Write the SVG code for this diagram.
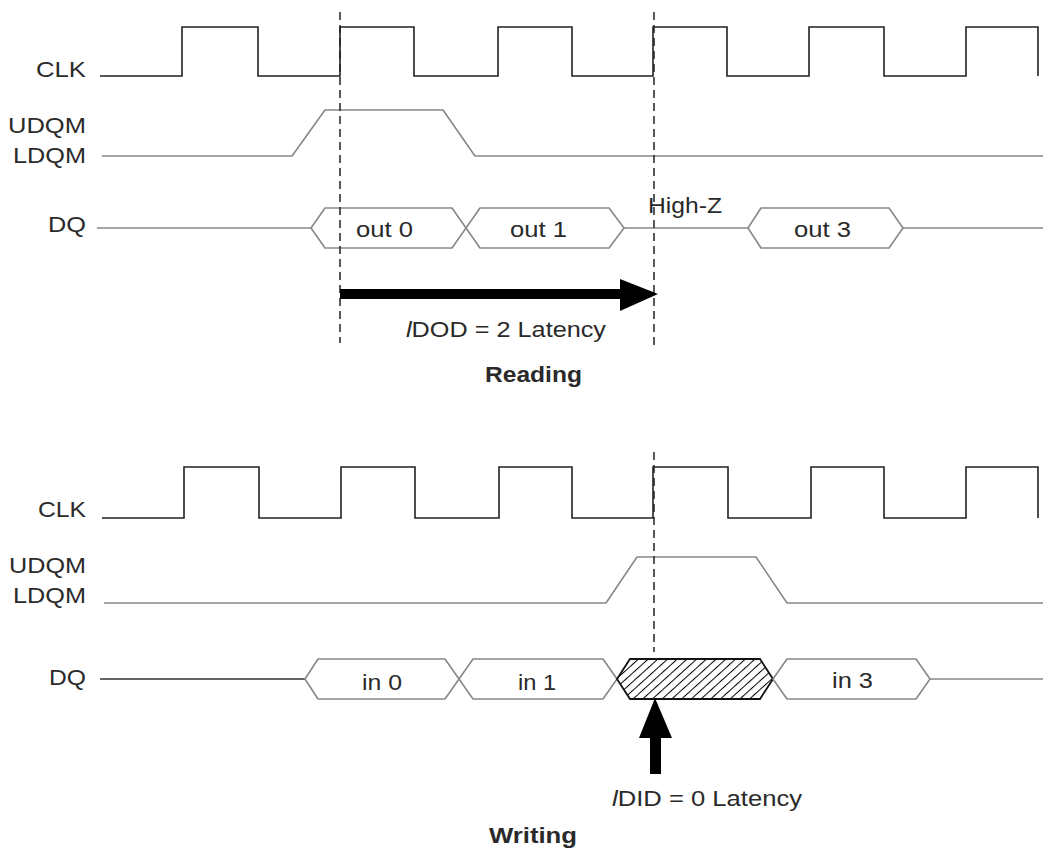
<svg xmlns="http://www.w3.org/2000/svg" width="1047" height="852" viewBox="0 0 1047 852">
<style>
  text { font-family: "Liberation Sans", Arial, sans-serif; font-size: 22px; fill: #2a2a2a; }
  .b { font-weight: bold; }
  .clk { fill: none; stroke: #222; stroke-width: 1.6; stroke-linejoin: miter; }
  .sig { fill: none; stroke: #888; stroke-width: 1.6; stroke-linejoin: round; }
  .dark { fill: none; stroke: #333; stroke-width: 1.6; }
  .dash { fill: none; stroke: #222; stroke-width: 1.5; stroke-dasharray: 8 5; }
  .hatch { fill: url(#hatch); stroke: #111; stroke-width: 1.8; }
  .arrow { fill: #000; stroke: none; }
</style>
<defs>
  <pattern id="hatch" patternUnits="userSpaceOnUse" width="6.5" height="6.5" patternTransform="rotate(48)">
    <rect width="6.5" height="6.5" fill="#fff"/>
    <line x1="0" y1="0" x2="0" y2="6.5" stroke="#000" stroke-width="2"/>
  </pattern>
</defs>
<rect width="1047" height="852" fill="#fff"/>

<!-- ===== Reading ===== -->
<g id="read-labels">
  <text x="36" y="77" textLength="50" lengthAdjust="spacingAndGlyphs">CLK</text>
  <text x="8" y="133" textLength="78" lengthAdjust="spacingAndGlyphs">UDQM</text>
  <text x="13" y="163" textLength="73" lengthAdjust="spacingAndGlyphs">LDQM</text>
  <text x="48" y="232" textLength="38" lengthAdjust="spacingAndGlyphs">DQ</text>
</g>
<g id="read-clk">
  <polyline class="clk" points="100,76 182,76 182,27 258,27 258,76 340,76 340,27 414,27 414,76 498,76 498,27 572,27 572,76 653,76 653,27 727,27 727,76 809,76 809,27 884,27 884,76 966,76 966,27 1038,27 1038,76"/>
</g>
<g id="read-dqm">
  <polyline class="sig" points="102,156 292,156 325,110 443,110 475,156 1043,156"/>
</g>
<g id="read-dq">
  <line class="sig" x1="97" y1="228" x2="311" y2="228"/>
  <polygon class="sig" points="311,228 325,208 452,208 466,228 452,248 325,248"/>
  <polygon class="sig" points="466,228 480,208 609,208 624,228 609,248 480,248"/>
  <line class="sig" x1="624" y1="228" x2="748" y2="228"/>
  <polygon class="sig" points="748,228 761,208 889,208 903,228 889,248 761,248"/>
  <line class="sig" x1="903" y1="228" x2="1043" y2="228"/>
  <text x="356" y="237" textLength="57" lengthAdjust="spacingAndGlyphs">out 0</text>
  <text x="510" y="237" textLength="57" lengthAdjust="spacingAndGlyphs">out 1</text>
  <text x="648" y="213" textLength="74" lengthAdjust="spacingAndGlyphs">High-Z</text>
  <text x="794" y="237" textLength="57" lengthAdjust="spacingAndGlyphs">out 3</text>
</g>
<g id="read-connectors">
  <line class="dash" x1="340" y1="12" x2="340" y2="343"/>
  <line class="dash" x1="654" y1="12" x2="654" y2="345"/>
  <rect class="arrow" x="340" y="289" width="282" height="10"/>
  <polygon class="arrow" points="620,279 658,294 620,311"/>
</g>
<g id="read-caption">
  <text x="406" y="337" textLength="200" lengthAdjust="spacingAndGlyphs"><tspan font-style="italic">l</tspan>DOD = 2 Latency</text>
  <text class="b" x="485" y="382" textLength="97" lengthAdjust="spacingAndGlyphs">Reading</text>
</g>

<!-- ===== Writing ===== -->
<g id="write-labels">
  <text x="38" y="517" textLength="48" lengthAdjust="spacingAndGlyphs">CLK</text>
  <text x="9" y="573" textLength="77" lengthAdjust="spacingAndGlyphs">UDQM</text>
  <text x="13" y="603" textLength="73" lengthAdjust="spacingAndGlyphs">LDQM</text>
  <text x="49" y="685" textLength="37" lengthAdjust="spacingAndGlyphs">DQ</text>
</g>
<g id="write-clk">
  <polyline class="clk" points="102,518 184,518 184,467 259,467 259,518 341,518 341,467 415,467 415,518 499,518 499,467 572,467 572,518 653,518 653,467 728,467 728,518 811,518 811,467 884,467 884,518 966,518 966,467 1038,467 1038,518"/>
</g>
<g id="write-dqm">
  <polyline class="sig" points="104,603 606,603 637,557 756,557 787,603 1043,603"/>
</g>
<g id="write-dq">
  <line class="dark" x1="100" y1="679" x2="305" y2="679"/>
  <polygon class="sig" points="305,679 318,659 445,659 459,679 445,699 318,699"/>
  <polygon class="sig" points="459,679 473,659 603,659 617,679 603,699 473,699"/>
  <polygon class="hatch" points="617,679 630,659 760,659 773,679 760,699 630,699"/>
  <polygon class="sig" points="773,679 787,659 916,659 930,679 916,699 787,699"/>
  <line class="sig" x1="930" y1="679" x2="1043" y2="679"/>
  <text x="362" y="690" textLength="40" lengthAdjust="spacingAndGlyphs">in 0</text>
  <text x="518" y="690" textLength="38" lengthAdjust="spacingAndGlyphs">in 1</text>
  <text x="832" y="688" textLength="41" lengthAdjust="spacingAndGlyphs">in 3</text>
</g>
<g id="write-connectors">
  <line class="dash" x1="654" y1="452" x2="654" y2="652"/>
  <polygon class="arrow" points="655,698 639,738 672,738"/>
  <rect class="arrow" x="650" y="737" width="11" height="37"/>
</g>
<g id="write-caption">
  <text x="612" y="806" textLength="190" lengthAdjust="spacingAndGlyphs"><tspan font-style="italic">l</tspan>DID = 0 Latency</text>
  <text class="b" x="489" y="843" textLength="88" lengthAdjust="spacingAndGlyphs">Writing</text>
</g>
</svg>
